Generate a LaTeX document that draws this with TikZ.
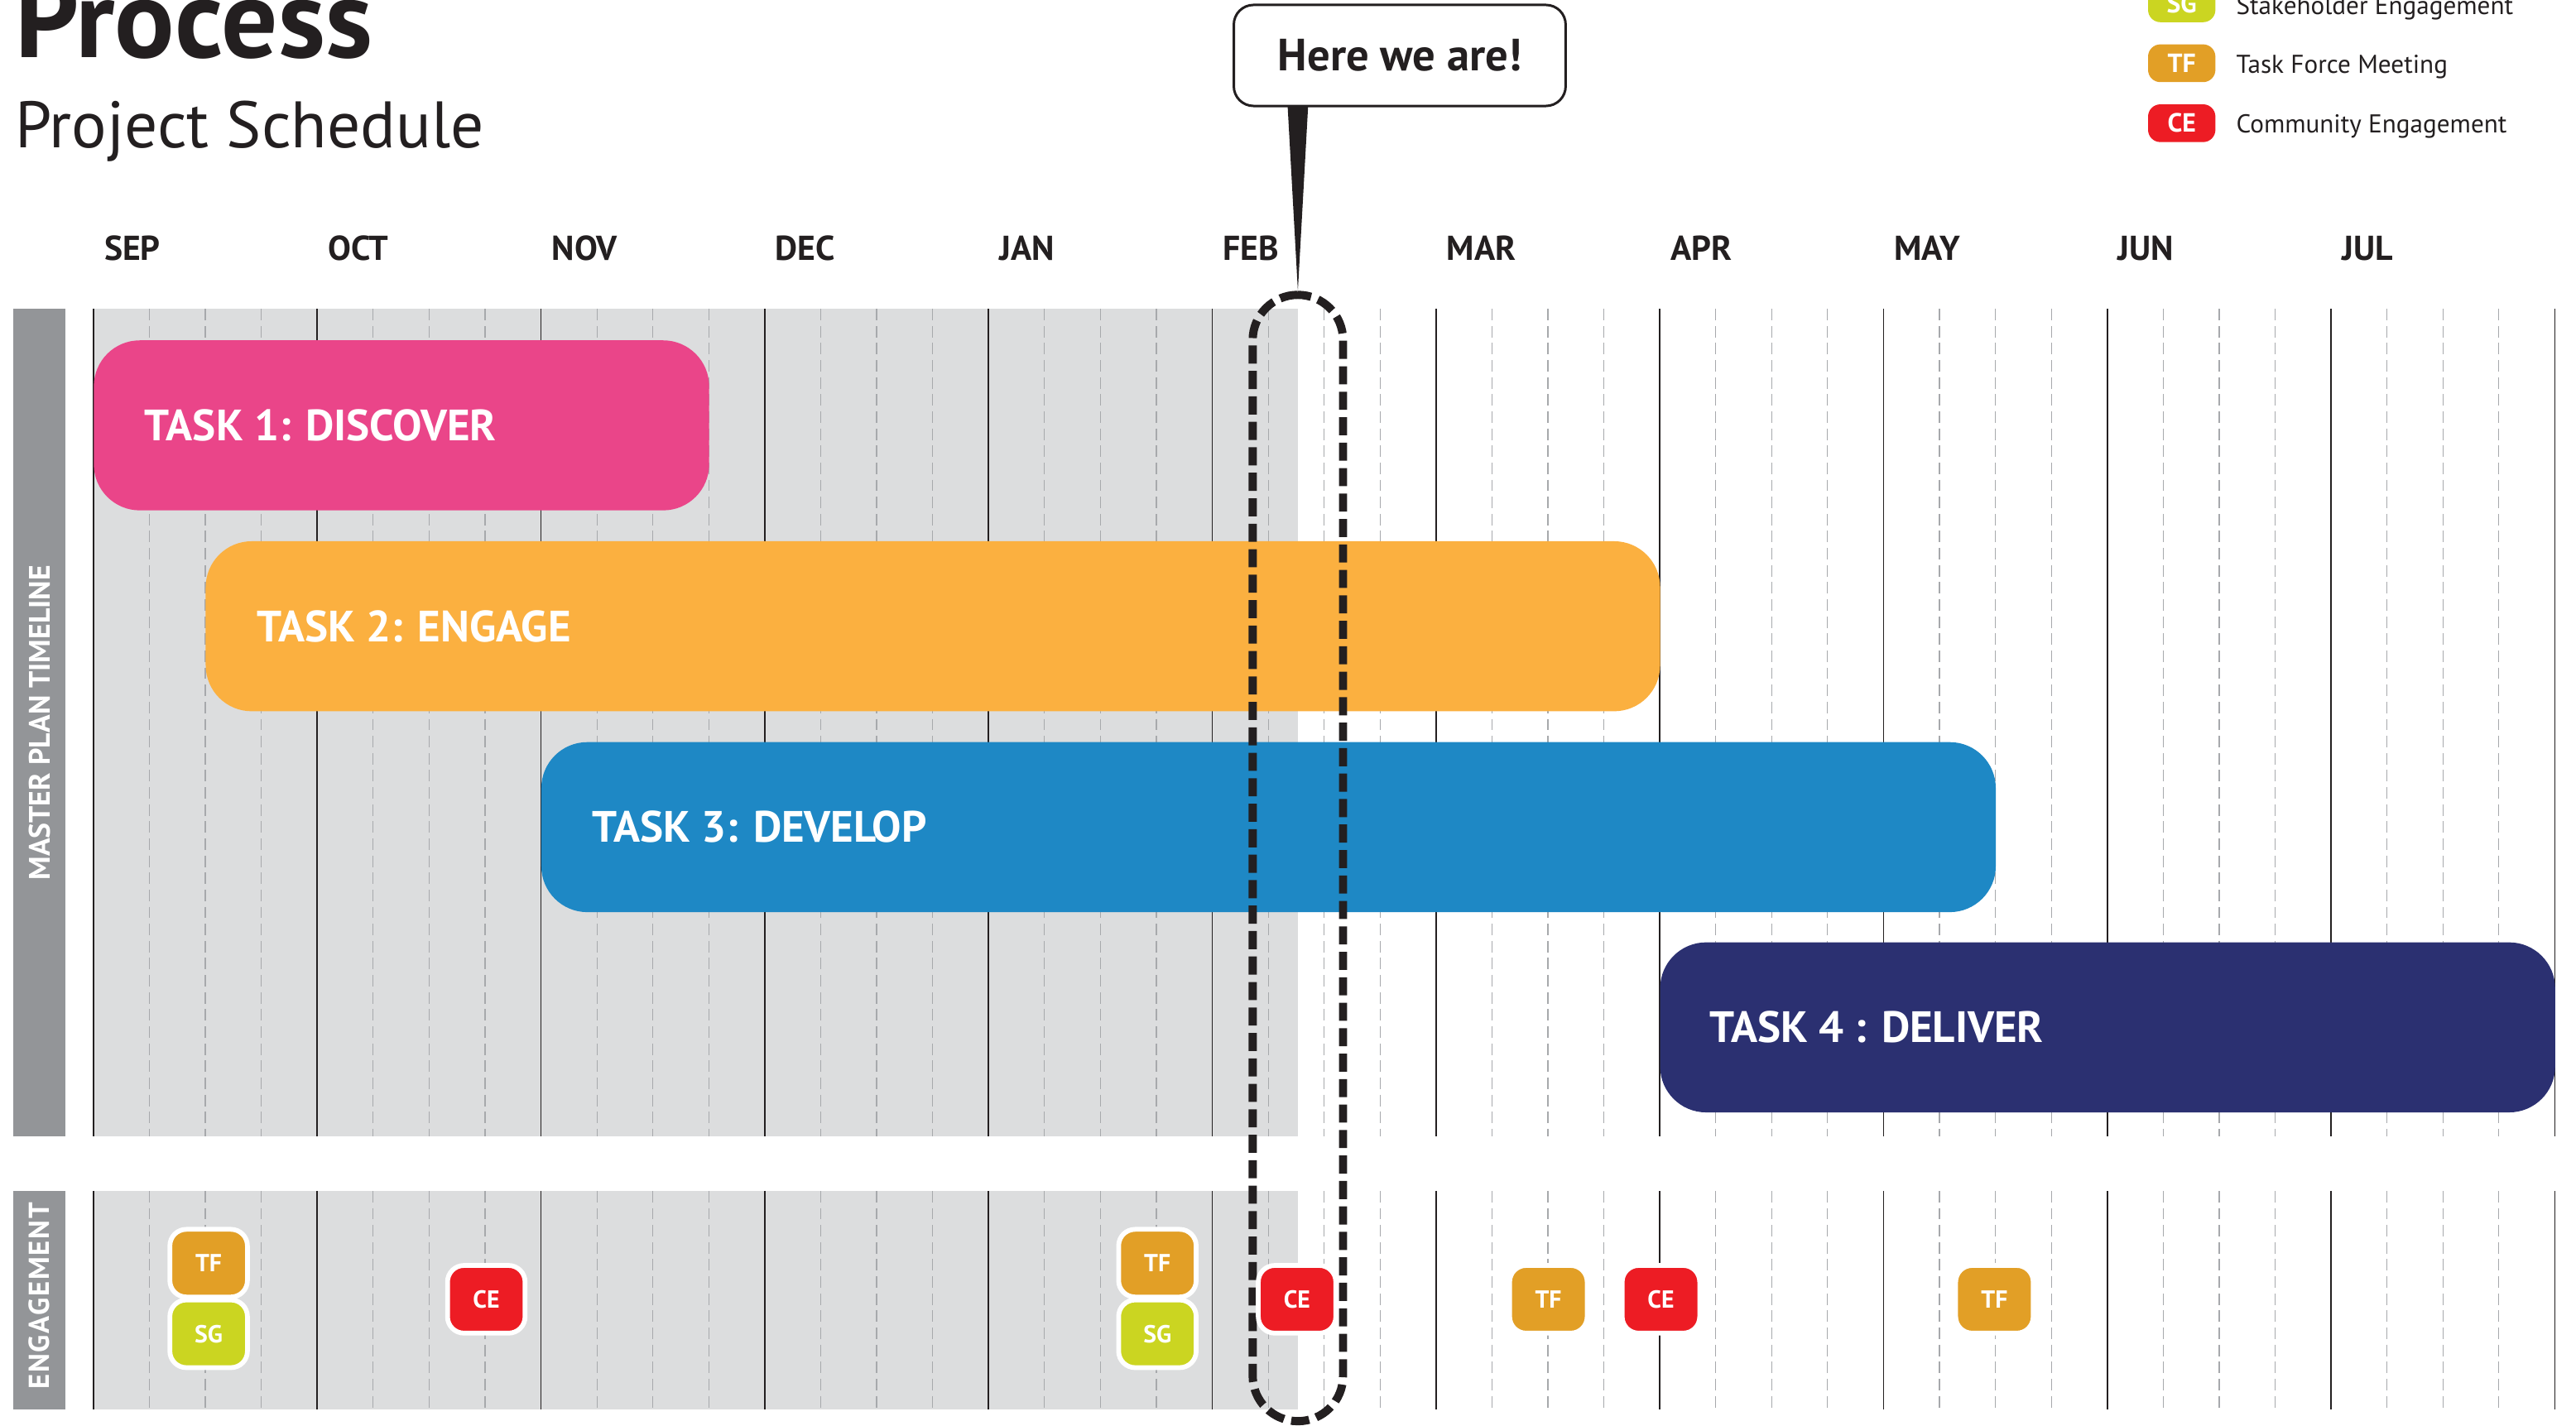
\documentclass[tikz,border=0pt]{standalone}
\usepackage{fontspec}
\setmainfont{PT Sans}
\definecolor{ink}{HTML}{231F20}
\definecolor{bggray}{HTML}{DCDDDE}
\definecolor{sidegray}{HTML}{939598}
\definecolor{gridgray}{HTML}{A7A9AC}
\definecolor{pinkT}{HTML}{EA4589}
\definecolor{orangeT}{HTML}{FBB040}
\definecolor{blueT}{HTML}{1E88C5}
\definecolor{navyT}{HTML}{2B3071}
\definecolor{tfcol}{HTML}{E29F26}
\definecolor{sgcol}{HTML}{CBD521}
\definecolor{cecol}{HTML}{ED1C24}
\tikzset{
 gridsolid/.style={ink, line width=0.9pt},
 griddash/.style={gridgray, line width=0.6pt, dash pattern=on 7pt off 3.4pt},
 taskbar/.style={anchor=north west, rounded corners=28pt, minimum height=103.5pt, inner sep=0pt},
 tasktext/.style={anchor=west, inner sep=0pt, text=white, font=\bfseries\fontsize{26.7}{29}\selectfont},
 month/.style={anchor=base west, inner sep=0pt, text=ink, font=\bfseries\fontsize{21}{23}\selectfont},
 legbadge/.style={minimum width=41pt, minimum height=23pt, rounded corners=7.5pt, inner sep=0pt, text=white, font=\bfseries\fontsize{16}{18}\selectfont},
 legtext/.style={anchor=base west, inner sep=0pt, text=ink, font=\fontsize{15.7}{18}\selectfont},
 badge/.style={draw=white, line width=2.9pt, minimum width=47.2pt, minimum height=41.2pt, rounded corners=10pt, inner sep=0pt, text=white, font=\bfseries\fontsize{15}{17}\selectfont},
 sidetext/.style={rotate=90, inner sep=0pt, text=white, font=\bfseries\fontsize{18}{20}\selectfont},
}
\begin{document}
\begin{tikzpicture}[x=1pt,y=-1pt]
\useasboundingbox (0,0) rectangle (1568,868);
% titles
\node[anchor=base west, inner sep=0pt, text=ink, font=\bfseries\fontsize{68}{72}\selectfont] (title) at (9,34.8) {Process};
\node[anchor=base west, inner sep=0pt, text=ink, font=\fontsize{40}{44}\selectfont] (subtitle) at (9,89.7) {Project Schedule};
% legend
\node[legbadge, fill=sgcol] (lsg) at (1328,2) {SG};
\node[legbadge, fill=tfcol] (ltf) at (1328,38.5) {TF};
\node[legbadge, fill=cecol] (lce) at (1328,75) {CE};
\node[legtext] (lsgt) at (1361,8.6) {Stakeholder Engagement};
\node[legtext] (ltft) at (1361,44.8) {Task Force Meeting};
\node[legtext] (lcet) at (1361,81) {Community Engagement};
% backgrounds
\fill[bggray] (56.9,188) rectangle (790,692);
\fill[bggray] (56.9,725) rectangle (790,858);
\fill[sidegray] (8,188) rectangle (40,692);
\fill[sidegray] (8,725) rectangle (40,858);
\node[sidetext] (side1) at (24,440) {MASTER PLAN TIMELINE};
\node[sidetext, font=\bfseries\fontsize{17.5}{20}\selectfont\addfontfeature{LetterSpace=5}] (side2) at (24,789) {ENGAGEMENT};
% grid
\foreach \m in {0,...,10}{
  \foreach \k in {1,2,3}{
    \draw[griddash] ({56.9+\m*136.2+\k*34.05},188) -- ({56.9+\m*136.2+\k*34.05},692);
    \draw[griddash] ({56.9+\m*136.2+\k*34.05},725) -- ({56.9+\m*136.2+\k*34.05},858);
  }
}
\foreach \m in {0,...,11}{
  \draw[gridsolid] ({56.9+\m*136.2},188) -- ({56.9+\m*136.2},692);
  \draw[gridsolid] ({56.9+\m*136.2},725) -- ({56.9+\m*136.2},858);
}
% months
\foreach \mn [count=\i from 0] in {SEP,OCT,NOV,DEC,JAN,FEB,MAR,APR,MAY,JUN,JUL}{
  \node[month] (m\i) at ({56.9+\i*136.2+6.4},158.7) {\mn};
}
% tasks
\node[taskbar, fill=pinkT, minimum width=374.55pt] (t1) at (56.9,207) {};
\node[taskbar, fill=orangeT, minimum width=885.3pt] (t2) at (125,329.3) {};
\node[taskbar, fill=blueT, minimum width=885.3pt] (t3) at (329.3,451.6) {};
\node[taskbar, fill=navyT, minimum width=544.8pt] (t4) at (1010.3,573.5) {};
\node[tasktext] (t1l) at ([xshift=31pt]t1.west) {TASK 1: DISCOVER};
\node[tasktext] (t2l) at ([xshift=31pt]t2.west) {TASK 2: ENGAGE};
\node[tasktext] (t3l) at ([xshift=31pt]t3.west) {TASK 3: DEVELOP};
\node[tasktext] (t4l) at ([xshift=30pt]t4.west) {TASK 4 : DELIVER};
% now marker
\node[draw=ink, line width=5pt, dash pattern=on 11pt off 4.5pt, rounded corners=27.5pt, minimum width=55pt, minimum height=685.7pt, inner sep=0pt] (now) at (790,522.35) {};
% engagement badges
\node[badge, fill=tfcol] (e1) at (127,769) {TF};
\node[badge, fill=sgcol] (e2) at (127,812) {SG};
\node[badge, fill=cecol] (e3) at (296,791) {CE};
\node[badge, fill=tfcol] (e4) at (704.5,769) {TF};
\node[badge, fill=sgcol] (e5) at (704.5,812) {SG};
\node[badge, fill=cecol] (e6) at (789.5,791) {CE};
\node[badge, fill=tfcol] (e7) at (942.5,791) {TF};
\node[badge, fill=cecol] (e8) at (1011,791) {CE};
\node[badge, fill=tfcol] (e9) at (1214,791) {TF};
% callout
\node[draw=ink, line width=1.5pt, rounded corners=12pt, minimum width=202pt, minimum height=61.5pt, fill=white, inner sep=0pt, text=ink, font=\bfseries\fontsize{27.5}{30}\selectfont] (callout) at (852,33.75) {Here we are!};
\coordinate (pbase) at (callout.south -| now.north);
\fill[ink] ([xshift=-6.25pt,yshift=1pt]pbase) -- ([xshift=6.25pt,yshift=1pt]pbase) -- (now.north) -- cycle;
\end{tikzpicture}
\end{document}
